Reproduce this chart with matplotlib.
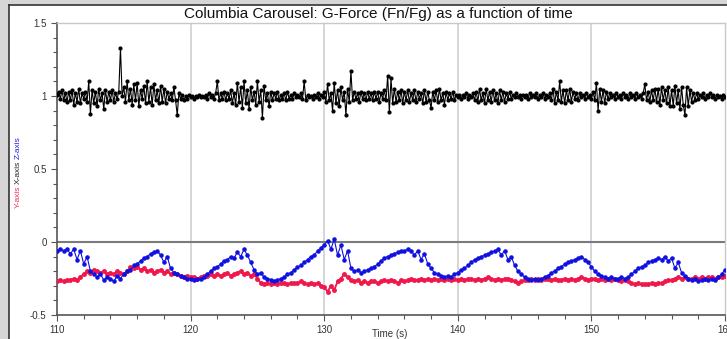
import numpy as np
import matplotlib
matplotlib.use("Agg")
import matplotlib.pyplot as plt
from matplotlib.patches import Rectangle
from matplotlib.ticker import MultipleLocator, FuncFormatter

plt.rcParams['font.family'] = ['Liberation Sans', 'DejaVu Sans']

title = "Columbia Carousel: G-Force (Fn/Fg) as a function of time"
x_label = "Time (s)"
t_start = 110.0
t_step_x = 0.125
t_step_yz = 0.25

x_axis = [
    1.01, 1.03, 0.98, 1.04, 0.97, 1.02, 0.96, 1.03,
    0.97, 1.04, 0.94, 1.02, 0.96, 1.05, 0.95, 1.02,
    0.98, 1.03, 0.96, 1.10, 0.88, 1.04, 0.95, 1.03,
    0.93, 1.05, 0.97, 1.02, 0.91, 1.04, 0.96, 1.03,
    0.97, 1.04, 0.96, 1.02, 0.98, 1.03, 1.33, 1.00,
    1.06, 0.96, 1.10, 0.97, 1.05, 0.94, 1.08, 0.97,
    1.09, 0.93, 1.04, 0.98, 1.07, 0.95, 1.10, 0.96,
    1.06, 0.94, 1.08, 0.97, 1.04, 0.95, 1.07, 0.96,
    1.05, 0.95, 1.03, 0.98, 1.02, 0.97, 1.06, 0.97,
    0.87, 1.02, 0.98, 1.01, 0.97, 1.00, 0.98, 1.01,
    0.99, 1.00, 0.98, 1.00, 0.99, 1.01, 0.99, 1.00,
    0.99, 1.01, 0.98, 1.02, 0.99, 1.01, 0.98, 1.02,
    1.10, 0.97, 1.02, 0.98, 1.03, 0.97, 1.02, 0.98,
    1.04, 0.95, 1.02, 0.94, 1.09, 0.96, 1.06, 0.92,
    1.10, 0.95, 1.04, 0.91, 1.06, 0.97, 1.03, 0.94,
    1.10, 0.96, 1.04, 0.85, 1.07, 0.97, 1.02, 0.93,
    1.03, 0.97, 1.02, 0.98, 1.03, 0.97, 1.01, 0.98,
    1.02, 0.97, 1.03, 0.98, 1.01, 0.98, 1.02, 0.99,
    1.01, 0.99, 1.02, 0.98, 1.10, 0.97, 1.01, 0.99,
    1.00, 0.98, 1.01, 0.99, 1.02, 0.98, 1.01, 0.99,
    1.03, 0.96, 1.08, 0.97, 1.02, 0.90, 1.09, 0.95,
    1.04, 0.93, 1.06, 0.97, 1.03, 0.87, 1.05, 0.96,
    1.17, 0.97, 1.03, 0.98, 1.02, 0.96, 1.03, 0.98,
    1.02, 0.97, 1.03, 0.98, 1.02, 0.97, 1.03, 0.98,
    1.03, 0.96, 1.02, 0.98, 1.04, 0.97, 1.14, 0.89,
    1.12, 0.95, 1.05, 0.96, 1.03, 0.97, 1.04, 0.95,
    1.03, 0.97, 1.04, 0.96, 1.02, 0.97, 1.04, 0.96,
    1.03, 0.98, 1.02, 0.95, 1.04, 0.96, 1.03, 0.97,
    0.92, 1.03, 0.97, 1.04, 0.96, 1.05, 0.97, 1.02,
    0.94, 1.03, 0.97, 1.02, 0.98, 1.03, 0.97, 1.01,
    0.99, 1.01, 0.98, 1.01, 0.99, 1.02, 0.98, 1.01,
    0.99, 1.02, 0.97, 1.03, 0.96, 1.05, 0.97, 1.02,
    0.95, 1.05, 0.97, 1.03, 0.96, 1.04, 0.97, 1.02,
    0.95, 1.04, 0.97, 1.03, 0.96, 1.02, 0.98, 1.03,
    0.98, 1.01, 0.99, 1.02, 0.99, 1.01, 0.98, 1.01,
    0.99, 1.01, 0.98, 1.02, 0.99, 1.01, 0.99, 1.02,
    0.98, 1.01, 0.99, 1.02, 0.98, 1.01, 0.99, 1.02,
    0.97, 1.05, 0.95, 1.03, 0.97, 1.10, 0.96, 1.04,
    0.95, 1.04, 0.97, 1.05, 0.96, 1.03, 0.98, 1.02,
    0.97, 1.02, 0.99, 1.01, 0.98, 1.02, 0.99, 1.01,
    0.98, 1.03, 0.97, 1.09, 0.90, 1.05, 0.96, 1.04,
    0.95, 1.03, 0.98, 1.02, 0.99, 1.01, 0.98, 1.02,
    0.99, 1.01, 0.98, 1.02, 0.99, 1.01, 0.98, 1.02,
    0.99, 1.01, 0.98, 1.02, 0.99, 1.01, 0.98, 1.02,
    1.08, 0.97, 1.03, 0.96, 1.04, 0.97, 1.05, 0.96,
    1.05, 0.94, 1.06, 0.97, 1.04, 0.95, 1.06, 0.93,
    1.04, 0.93, 1.07, 0.95, 1.04, 0.91, 1.06, 0.94,
    0.87, 1.06, 0.93, 1.04, 0.96, 1.02, 0.97, 1.02,
    0.98, 1.01, 0.99, 1.02, 0.98, 1.01, 0.99, 1.02,
    0.99, 1.01, 0.98, 1.01, 0.99, 1.00, 0.98, 1.01,
    0.99,
]

z_axis = [
    -0.06, -0.05, -0.06, -0.05, -0.08, -0.05, -0.12, -0.06, -0.15, -0.10, -0.20, -0.22,
    -0.24, -0.22, -0.26, -0.24, -0.25, -0.27, -0.23, -0.25, -0.22, -0.20, -0.19, -0.16,
    -0.15, -0.13, -0.11, -0.10, -0.08, -0.07, -0.06, -0.09, -0.14, -0.10, -0.18, -0.21,
    -0.22, -0.23, -0.24, -0.25, -0.25, -0.26, -0.25, -0.25, -0.24, -0.22, -0.20, -0.18,
    -0.17, -0.15, -0.13, -0.12, -0.10, -0.11, -0.07, -0.10, -0.05, -0.09, -0.14, -0.19,
    -0.22, -0.21, -0.24, -0.25, -0.26, -0.27, -0.26, -0.25, -0.24, -0.22, -0.21, -0.19,
    -0.17, -0.16, -0.14, -0.12, -0.10, -0.09, -0.06, -0.04, -0.02, 0.01, -0.05, 0.02,
    -0.09, -0.02, -0.12, -0.06, -0.18, -0.20, -0.19, -0.21, -0.20, -0.19, -0.18, -0.17,
    -0.15, -0.13, -0.11, -0.10, -0.09, -0.08, -0.07, -0.06, -0.06, -0.05, -0.06, -0.09,
    -0.06, -0.12, -0.08, -0.15, -0.18, -0.21, -0.22, -0.23, -0.24, -0.23, -0.24, -0.22,
    -0.21, -0.19, -0.18, -0.16, -0.14, -0.12, -0.11, -0.10, -0.09, -0.08, -0.07, -0.06,
    -0.05, -0.09, -0.06, -0.12, -0.10, -0.16, -0.20, -0.22, -0.24, -0.25, -0.26, -0.25,
    -0.26, -0.25, -0.24, -0.23, -0.21, -0.20, -0.18, -0.17, -0.15, -0.14, -0.13, -0.12,
    -0.11, -0.10, -0.12, -0.14, -0.17, -0.20, -0.22, -0.23, -0.24, -0.25, -0.24, -0.25,
    -0.25, -0.24, -0.25, -0.24, -0.22, -0.20, -0.18, -0.17, -0.16, -0.14, -0.13, -0.12,
    -0.11, -0.12, -0.10, -0.13, -0.11, -0.18, -0.14, -0.21, -0.23, -0.25, -0.26, -0.25,
    -0.27, -0.26, -0.25, -0.26, -0.25, -0.26, -0.24, -0.22, -0.19,
]

y_axis = [
    -0.27, -0.26, -0.27, -0.26, -0.26, -0.25, -0.26, -0.24, -0.22, -0.20, -0.21, -0.19,
    -0.20, -0.21, -0.20, -0.22, -0.21, -0.22, -0.20, -0.21, -0.22, -0.20, -0.17, -0.18,
    -0.17, -0.19, -0.18, -0.20, -0.19, -0.21, -0.20, -0.19, -0.21, -0.20, -0.22, -0.21,
    -0.22, -0.23, -0.24, -0.23, -0.24, -0.24, -0.25, -0.24, -0.23, -0.23, -0.22, -0.23,
    -0.22, -0.23, -0.22, -0.21, -0.23, -0.22, -0.21, -0.20, -0.22, -0.21, -0.23, -0.22,
    -0.25, -0.28, -0.29, -0.28, -0.29, -0.28, -0.29, -0.28, -0.28, -0.29, -0.28, -0.28,
    -0.28, -0.27, -0.28, -0.29, -0.28, -0.29, -0.28, -0.30, -0.31, -0.34, -0.30, -0.33,
    -0.27, -0.25, -0.22, -0.24, -0.26, -0.27, -0.26, -0.28, -0.27, -0.28, -0.27, -0.27,
    -0.28, -0.27, -0.26, -0.27, -0.26, -0.27, -0.28, -0.26, -0.27, -0.26, -0.25, -0.26,
    -0.26, -0.25, -0.26, -0.25, -0.26, -0.25, -0.26, -0.25, -0.26, -0.25, -0.26, -0.25,
    -0.26, -0.25, -0.26, -0.25, -0.25, -0.26, -0.25, -0.26, -0.25, -0.24, -0.25, -0.26,
    -0.25, -0.26, -0.25, -0.25, -0.26, -0.27, -0.28, -0.27, -0.26, -0.26, -0.25, -0.26,
    -0.25, -0.26, -0.25, -0.25, -0.26, -0.25, -0.26, -0.26, -0.25, -0.26, -0.25, -0.26,
    -0.25, -0.24, -0.25, -0.26, -0.25, -0.25, -0.26, -0.25, -0.26, -0.25, -0.26, -0.25,
    -0.26, -0.27, -0.26, -0.27, -0.28, -0.29, -0.28, -0.29, -0.29, -0.29, -0.28, -0.29,
    -0.28, -0.28, -0.27, -0.26, -0.26, -0.25, -0.24, -0.25, -0.24, -0.25, -0.25, -0.24,
    -0.25, -0.24, -0.25, -0.24, -0.24, -0.25, -0.24, -0.24, -0.23,
]

t_x = t_start + t_step_x * np.arange(len(x_axis))
t_yz = t_start + t_step_yz * np.arange(len(z_axis))

W, H = 727, 339
fig = plt.figure(figsize=(W / 100, H / 100), dpi=100, facecolor="#d6d6d6")
fig.patches.append(Rectangle((9 / W, 0), 1 - 9 / W, 1 - 5 / H, transform=fig.transFigure,
                             facecolor="white", edgecolor="none", zorder=-5))
fig.lines.append(plt.Line2D([9 / W, 9 / W], [0, 1 - 5 / H], transform=fig.transFigure,
                            color="#333333", lw=1.2, zorder=-4))
fig.lines.append(plt.Line2D([9 / W, 1], [1 - 5 / H, 1 - 5 / H], transform=fig.transFigure,
                            color="#333333", lw=1.2, zorder=-4))

ax = fig.add_axes([57 / W, 24 / H, 668 / W, 292 / H], zorder=2)
ax.set_facecolor("white")
ax.set_xlim(110, 160)
ax.set_ylim(-0.5, 1.5)

for xv in [120, 130, 140, 150]:
    ax.axvline(xv, color="#cfcfcf", lw=1.2, zorder=1)
ax.axhline(0, color="#7a7a7a", lw=1.5, zorder=1)

ax.plot(t_yz, y_axis, color="#f0174a", lw=1.3, marker=".", ms=5, zorder=3)
ax.plot(t_yz, z_axis, color="#1010e0", lw=0.8, marker=".", ms=4.5, zorder=4)
ax.plot(t_x, x_axis, color="black", lw=0.8, marker=".", ms=4, zorder=5)

ax.xaxis.set_major_locator(MultipleLocator(10))
ax.xaxis.set_minor_locator(MultipleLocator(2))
ax.yaxis.set_major_locator(MultipleLocator(0.5))
ax.yaxis.set_minor_locator(MultipleLocator(0.1))
ax.yaxis.set_major_formatter(FuncFormatter(lambda v, p: f"{v:g}"))
ax.tick_params(axis="both", which="both", direction="out", colors="#555555",
               labelcolor="#333333", labelsize=7, width=0.8)
ax.tick_params(which="major", length=4)
ax.tick_params(which="minor", length=3)
for s in ["left", "bottom"]:
    ax.spines[s].set_color("#555555")
    ax.spines[s].set_linewidth(1.2)
for s in ["top", "right"]:
    ax.spines[s].set_color("#c8c8c8")
    ax.spines[s].set_linewidth(1.0)

fig.text(378 / W, 1 - 14 / H, title, ha="center", va="center", fontsize=11, color="#111111")
fig.text(390 / W, 1 - 334 / H, x_label, ha="center", va="center", fontsize=7, color="#333333")
fig.text(18 / W, 1 - 197 / H, "Y-axis", rotation=90, ha="center", va="center", fontsize=6, color="#e8305a")
fig.text(18 / W, 1 - 172 / H, "X-axis", rotation=90, ha="center", va="center", fontsize=6, color="#222222")
fig.text(18 / W, 1 - 148 / H, "Z-axis", rotation=90, ha="center", va="center", fontsize=6, color="#2020e0")

fig.savefig("out.png", dpi=100, facecolor=fig.get_facecolor())
